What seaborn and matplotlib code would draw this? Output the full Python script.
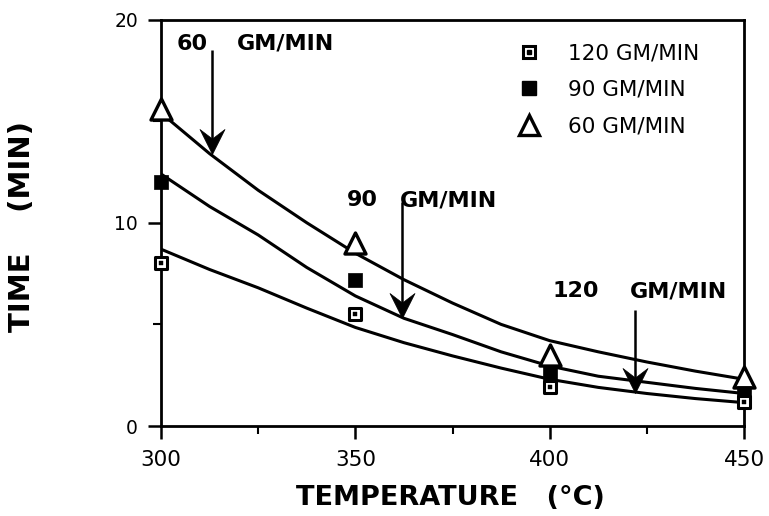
import matplotlib
matplotlib.use("Agg")
import matplotlib.pyplot as plt
from matplotlib.path import Path
from matplotlib.legend_handler import HandlerTuple
import seaborn as sns
import pandas as pd

# Measured points
temps = [300, 350, 400, 450]
time_120 = [8.0, 5.5, 1.9, 1.2]
time_90 = [12.0, 7.2, 2.6, 1.6]
time_60 = [15.6, 9.0, 3.5, 2.4]

# Smoothed curves through the measurements
curve_temps = [300, 312.5, 325, 337.5, 350, 362.5, 375, 387.5, 400, 412.5, 425, 437.5, 450]
curve_60 = [15.4, 13.4, 11.6, 10.0, 8.5, 7.2, 6.05, 5.0, 4.2, 3.65, 3.15, 2.7, 2.3]
curve_90 = [12.4, 10.8, 9.4, 7.8, 6.4, 5.3, 4.5, 3.65, 2.95, 2.45, 2.15, 1.85, 1.6]
curve_120 = [8.7, 7.7, 6.8, 5.8, 4.85, 4.1, 3.45, 2.85, 2.3, 1.9, 1.6, 1.35, 1.15]

# Arrow callouts: feed rate, arrow temperature, arrow top, arrow tip
callout_rates = ["60", "90", "120"]
callout_temps = [313.0, 361.9, 422.0]
callout_tops = [18.5, 11.0, 5.7]
callout_tips = [13.4, 5.3, 1.62]
# Callout text anchors: number, "GM/MIN" and their common height
callout_num_x = [303.9, 347.9, 400.8]
callout_unit_x = [319.6, 361.5, 420.7]
callout_text_y = [18.8, 11.1, 6.64]

legend_labels = ["120 GM/MIN", "90 GM/MIN", "60 GM/MIN"]

sns.set_style("ticks")
plt.rcParams["font.family"] = ["DejaVu Sans"]
plt.rcParams.update({"text.color": "black", "axes.labelcolor": "black",
                     "xtick.color": "black", "ytick.color": "black",
                     "xtick.labelcolor": "black", "ytick.labelcolor": "black"})

fig = plt.figure(figsize=(7.69, 5.16), dpi=100)
ax = fig.add_axes([0.2094, 0.1744, 0.7581, 0.7878])

curves = pd.DataFrame({
    "temp": curve_temps * 3,
    "time": curve_60 + curve_90 + curve_120,
    "rate": ["60"] * len(curve_temps) + ["90"] * len(curve_temps) + ["120"] * len(curve_temps),
})
sns.lineplot(data=curves, x="temp", y="time", units="rate", estimator=None,
             color="black", linewidth=2.2, ax=ax, legend=False, zorder=2)

pts = pd.DataFrame({"temp": temps, "t120": time_120, "t90": time_90, "t60": time_60})

sns.scatterplot(data=pts, x="temp", y="t60", marker="^", s=230, facecolor="white",
                edgecolor="black", linewidth=2.4, ax=ax, zorder=4, clip_on=False)
sns.scatterplot(data=pts, x="temp", y="t90", marker="s", s=95, color="black",
                edgecolor="black", linewidth=0.5, ax=ax, zorder=5, clip_on=False)
sns.scatterplot(data=pts, x="temp", y="t120", marker="s", s=80, facecolor="white",
                edgecolor="black", linewidth=2.2, ax=ax, zorder=6, clip_on=False)
sns.scatterplot(data=pts, x="temp", y="t120", marker="s", s=6, color="black",
                edgecolor="black", linewidth=0.3, ax=ax, zorder=7, clip_on=False)

# Concave arrowhead with its tip at the path origin, pointing down
head = Path([(0, 0), (-0.5, 1.0), (0, 0.62), (0.5, 1.0), (0, 0)],
            [Path.MOVETO, Path.LINETO, Path.LINETO, Path.LINETO, Path.CLOSEPOLY])

text_kw = dict(fontsize=16, fontweight="bold", va="center", ha="left", color="black")
for tx, top, tip in zip(callout_temps, callout_tops, callout_tips):
    ax.plot([tx, tx], [top, tip + 0.6], color="black", lw=1.8, zorder=3,
            solid_capstyle="butt")
    ax.plot([tx], [tip], marker=head, ms=36, color="black", mec="black",
            mew=0.5, ls="", zorder=3)
for rate, nx, ux, ty in zip(callout_rates, callout_num_x, callout_unit_x, callout_text_y):
    ax.text(nx, ty, rate, **text_kw)
    ax.text(ux, ty, "GM/MIN", **text_kw)

# Legend
h120 = (plt.Line2D([], [], marker="s", ms=9, mfc="white", mec="black", mew=2.2, ls=""),
        plt.Line2D([], [], marker="s", ms=2.2, mfc="black", mec="black", ls=""))
h90 = plt.Line2D([], [], marker="s", ms=9.5, mfc="black", mec="black", ls="")
h60 = plt.Line2D([], [], marker="^", ms=14, mfc="white", mec="black", mew=2.4, ls="")
leg = ax.legend([h120, h90, h60], legend_labels,
                handler_map={tuple: HandlerTuple(ndivide=1, pad=0)},
                loc="upper left", bbox_to_anchor=(0.6037, 0.942), frameon=False,
                fontsize=15.5, handletextpad=1.07, labelspacing=0.78,
                handlelength=1.5, borderpad=0, borderaxespad=0)
for t in leg.get_texts():
    t.set_color("black")

ax.set_xlim(300, 450)
ax.set_ylim(0, 20)
ax.set_xticks([300, 350, 400, 450])
ax.set_xticks([325, 375, 425], minor=True)
ax.set_yticks([0, 10, 20])
ax.set_yticks([5, 15], minor=True)
ax.tick_params(axis="both", which="major", direction="out", length=9.5, width=1.8,
               pad=7, color="black")
ax.tick_params(axis="both", which="minor", direction="out", length=5.5, width=1.5,
               color="black")
ax.tick_params(axis="x", which="major", labelsize=15.5, pad=8)
ax.tick_params(axis="y", which="major", labelsize=13.5)

for side in ["left", "right", "top", "bottom"]:
    ax.spines[side].set_visible(True)
    ax.spines[side].set_linewidth(2.0)
    ax.spines[side].set_color("black")

ax.set_xlabel("TEMPERATURE   (°C)", fontsize=19.5, fontweight="bold")
ax.xaxis.set_label_coords(0.497, -0.145)
ax.set_ylabel("TIME    (MIN)", fontsize=21, fontweight="bold")
ax.yaxis.set_label_coords(-0.215, 0.49)

fig.savefig("out.png", dpi=100, facecolor="white")
